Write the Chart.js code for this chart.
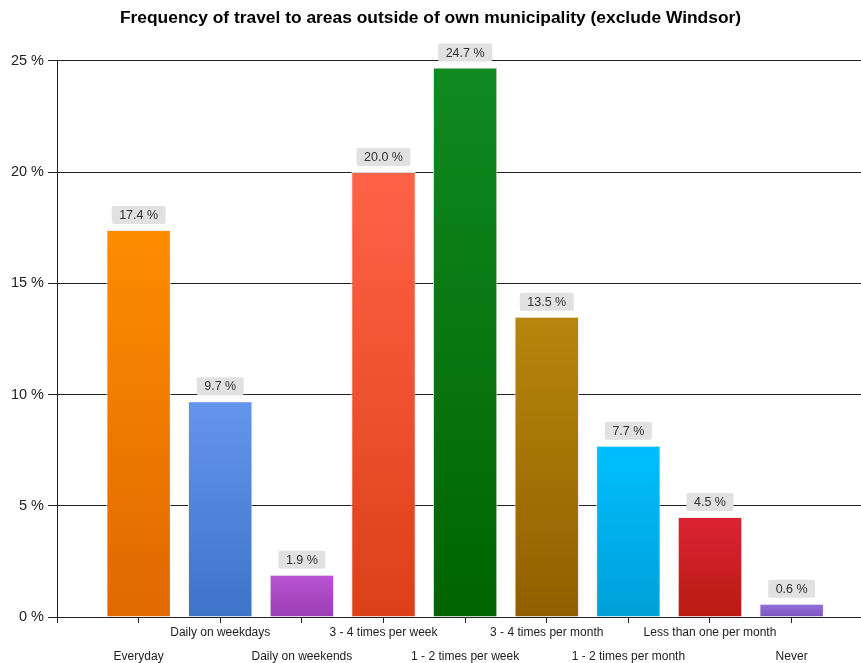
<!DOCTYPE html>
<html><head><meta charset="utf-8">
<script src="https://cdn.jsdelivr.net/npm/chart.js@4/dist/chart.umd.min.js"></script>
<style>html,body{margin:0;padding:0;background:#fff;}#wrap{width:861px;height:663px;}</style>
</head><body><div id="wrap"><canvas id="c" width="861" height="663"></canvas></div>
<script>
const titleText = 'Frequency of travel to areas outside of own municipality (exclude Windsor)';
const categories = ['Everyday','Daily on weekdays','Daily on weekends','3 - 4 times per week','1 - 2 times per week','3 - 4 times per month','1 - 2 times per month','Less than one per month','Never'];
const values = [17.4, 9.7, 1.9, 20.0, 24.7, 13.5, 7.7, 4.5, 0.6];
const topColors = ['#FF8C00','#6495ED','#BA55D3','#FF6347','#108A20','#B8860B','#00BFFF','#DC2434','#9370DB'];
const bottomColors = ['#E06800','#3C74C8','#9A3EB2','#DC4018','#006400','#925F00','#00A0D8','#B81A12','#7A55C0'];
const yTicks = [0,5,10,15,20,25];
const FONT = '"Liberation Sans", Arial, sans-serif';

const labelPlugin = {
  id: 'barLabels',
  afterDatasetsDraw(chart) {
    const ctx = chart.ctx;
    const meta = chart.getDatasetMeta(0);
    ctx.save();
    ctx.font = '12.5px ' + FONT;
    ctx.textAlign = 'center';
    ctx.textBaseline = 'middle';
    meta.data.forEach((bar, i) => {
      const txt = values[i].toFixed(1) + ' %';
      const w = ctx.measureText(txt).width + 15;
      const h = 18;
      const x = bar.x - w / 2;
      const y = bar.y - 6 - h;
      ctx.fillStyle = '#e1e1e1';
      ctx.beginPath();
      if (ctx.roundRect) ctx.roundRect(x, y, w, h, 2); else ctx.rect(x, y, w, h);
      ctx.fill();
      ctx.fillStyle = '#303030';
      ctx.fillText(txt, bar.x, y + h / 2 + 0.5);
    });
    ctx.restore();
  }
};

new Chart(document.getElementById('c'), {
  type: 'bar',
  data: {
    datasets: [{
      data: values.map((v, i) => ({x: i + 1, y: v})),
      backgroundColor(context) {
        const chart = context.chart;
        const i = context.dataIndex;
        if (!chart.chartArea || context.parsed == null) return topColors[i];
        const ys = chart.scales.y;
        const top = ys.getPixelForValue(context.parsed.y);
        const bot = ys.getPixelForValue(0);
        if (!isFinite(top) || !isFinite(bot) || bot - top < 1) return topColors[i];
        const g = chart.ctx.createLinearGradient(0, top, 0, bot);
        g.addColorStop(0, topColors[i]);
        g.addColorStop(1, bottomColors[i]);
        return g;
      },
      borderColor: 'rgba(235,235,235,0.9)',
      borderWidth: 1,
      barPercentage: 0.79,
      categoryPercentage: 1.0
    }]
  },
  options: {
    responsive: false,
    animation: false,
    layout: {padding: {left: 0, right: 0, top: 0, bottom: 0}},
    plugins: {
      legend: {display: false},
      tooltip: {enabled: false},
      title: {
        display: true,
        text: titleText,
        color: '#000',
        font: {family: FONT, size: 17.4, weight: 'bold'},
        padding: {top: 8, bottom: 32}
      }
    },
    scales: {
      x: {
        type: 'linear',
        min: 0,
        max: 9.85,
        offset: false,
        grid: {display: true, offset: false, drawOnChartArea: false, drawTicks: true, tickLength: 6, color: '#222', tickColor: '#222'},
        border: {display: true, color: '#222', width: 1},
        ticks: {
          stepSize: 1,
          includeBounds: false,
          autoSkip: false,
          maxRotation: 0,
          minRotation: 0,
          padding: -2,
          color: '#222',
          font: {family: FONT, size: 12, lineHeight: 2},
          callback(v) {
            const idx = Math.round(v) - 1;
            if (Math.abs(v - Math.round(v)) > 1e-6 || idx < 0 || idx >= categories.length) return ['', ''];
            return idx % 2 === 0 ? ['', categories[idx]] : [categories[idx], ''];
          }
        },
        afterFit(scale) { scale.height = 46; }
      },
      y: {
        min: 0,
        max: 25,
        grid: {color: '#222', tickColor: '#222', tickLength: 9, lineWidth: 1},
        border: {display: true, color: '#222', width: 1},
        ticks: {
          stepSize: 5,
          padding: 4,
          color: '#222',
          font: {family: FONT, size: 14.5},
          callback(v) { return yTicks.includes(v) ? v + ' %' : ''; }
        },
        afterFit(scale) { scale.width = 57; }
      }
    }
  },
  plugins: [labelPlugin]
});
</script>
</body></html>
